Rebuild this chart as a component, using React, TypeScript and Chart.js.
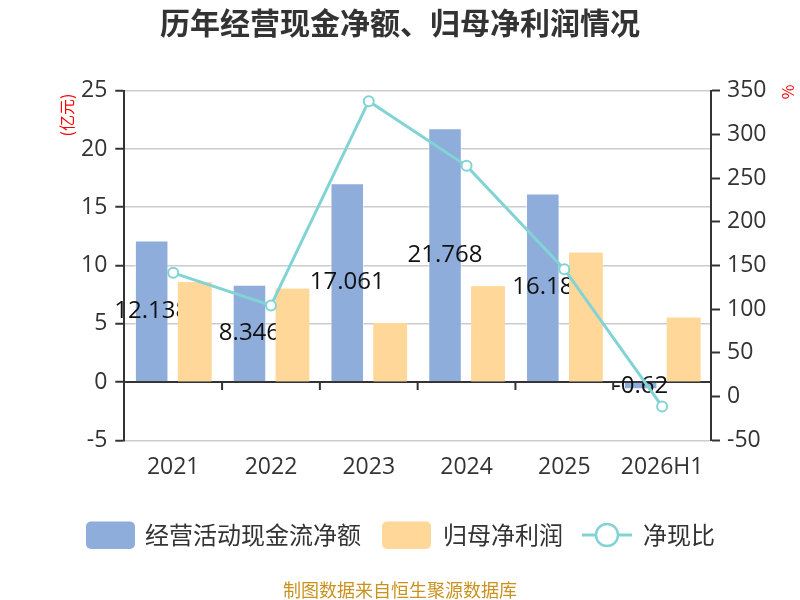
import React, { useEffect, useRef } from 'react';
import Chart from 'chart.js/auto';

const years = ['2021', '2022', '2023', '2024', '2025', '2026H1'];
const cashFlow = [12.138, 8.346, 17.061, 21.768, 16.18, -0.62];
const netProfit = [8.57, 8.0, 5.05, 8.23, 11.1, 5.52];
const cashRatio = [141.6, 104.3, 338, 264, 145.8, -11.2];

const TITLE = '历年经营现金净额、归母净利润情况';
const SOURCE = '制图数据来自恒生聚源数据库';
const LEGEND = ['经营活动现金流净额', '归母净利润', '净现比'];

const BLUE = '#8eaddb';
const YELLOW = '#ffd899';
const TEAL = '#82d3d6';
const CJK = '"Noto Sans CJK SC", sans-serif';
const NUM = '"Open Sans", sans-serif';

function roundRect(ctx: CanvasRenderingContext2D, x: number, y: number, w: number, h: number, r: number) {
  ctx.beginPath();
  ctx.moveTo(x + r, y);
  ctx.arcTo(x + w, y, x + w, y + h, r);
  ctx.arcTo(x + w, y + h, x, y + h, r);
  ctx.arcTo(x, y + h, x, y, r);
  ctx.arcTo(x, y, x + w, y, r);
  ctx.closePath();
}

const decor = {
  id: 'decor',
  beforeDatasetsDraw(chart: any) {
    const { ctx, chartArea, scales } = chart;
    const y0 = scales.y.getPixelForValue(0);
    ctx.save();
    ctx.strokeStyle = '#333';
    ctx.lineWidth = 2;
    ctx.beginPath();
    ctx.moveTo(chartArea.left, y0);
    ctx.lineTo(chartArea.right, y0);
    for (let i = 1; i < years.length; i++) {
      const x = (scales.x.getPixelForValue(i - 1) + scales.x.getPixelForValue(i)) / 2;
      ctx.moveTo(x, y0);
      ctx.lineTo(x, y0 + 8);
    }
    ctx.stroke();
    ctx.restore();
  },
  afterDatasetDraw(chart: any, args: any) {
    if (args.index !== 1) return;
    const ctx = chart.ctx;
    ctx.save();
    ctx.font = '24px ' + NUM;
    ctx.fillStyle = '#111';
    ctx.textAlign = 'center';
    ctx.textBaseline = 'middle';
    chart.getDatasetMeta(1).data.forEach((el: any, i: number) => {
      ctx.fillText(String(cashFlow[i]), el.x, (el.y + el.base) / 2);
    });
    ctx.restore();
    // profit bars sit on top of the labels
    chart.getDatasetMeta(2).data.forEach((el: any) => el.draw(ctx));
  },
  afterDraw(chart: any) {
    const ctx = chart.ctx;
    ctx.save();
    ctx.textBaseline = 'middle';

    ctx.fillStyle = '#333';
    ctx.textAlign = 'center';
    ctx.font = 'bold 30px ' + CJK;
    ctx.fillText(TITLE, 400, 23);

    ctx.fillStyle = '#f00';
    ctx.font = '16px ' + CJK;
    ctx.save();
    ctx.translate(67, 115);
    ctx.rotate(-Math.PI / 2);
    ctx.fillText('(亿元)', 0, 0);
    ctx.restore();
    ctx.save();
    ctx.translate(788, 92);
    ctx.rotate(-Math.PI / 2);
    ctx.fillText('%', 0, 0);
    ctx.restore();

    const ly = 535;
    ctx.font = '24px ' + CJK;
    ctx.textAlign = 'left';
    ctx.fillStyle = BLUE;
    roundRect(ctx, 86, ly - 13.5, 49, 27.5, 5);
    ctx.fill();
    ctx.fillStyle = '#333';
    ctx.fillText(LEGEND[0], 145, ly);
    ctx.fillStyle = YELLOW;
    roundRect(ctx, 382, ly - 13.5, 49, 27.5, 5);
    ctx.fill();
    ctx.fillStyle = '#333';
    ctx.fillText(LEGEND[1], 443, ly);
    ctx.strokeStyle = TEAL;
    ctx.lineWidth = 3;
    ctx.beginPath();
    ctx.moveTo(582, ly);
    ctx.lineTo(632, ly);
    ctx.stroke();
    ctx.beginPath();
    ctx.arc(607, ly, 11, 0, Math.PI * 2);
    ctx.fillStyle = '#fff';
    ctx.fill();
    ctx.lineWidth = 2.5;
    ctx.stroke();
    ctx.fillStyle = '#333';
    ctx.fillText(LEGEND[2], 643, ly);

    ctx.textAlign = 'center';
    ctx.fillStyle = '#c9921e';
    ctx.font = '18px ' + CJK;
    ctx.fillText(SOURCE, 400, 590);
    ctx.restore();
  },
};

export default function App() {
  const canvasRef = useRef<HTMLCanvasElement | null>(null);
  const chartRef = useRef<Chart | null>(null);

  useEffect(() => {
    document.body.style.margin = '0';
    const ctx = canvasRef.current?.getContext('2d');
    if (!ctx) return;
    try { chartRef.current?.destroy(); } catch {}

    const tickFont = { family: NUM, size: 23 };

    chartRef.current = new Chart(ctx, {
      type: 'bar',
      data: {
        labels: years,
        datasets: [
          {
            type: 'line',
            label: LEGEND[2],
            data: cashRatio,
            yAxisID: 'y1',
            borderColor: TEAL,
            borderWidth: 3,
            pointRadius: 5,
            pointBackgroundColor: '#fff',
            pointBorderColor: TEAL,
            pointBorderWidth: 2,
            tension: 0,
          },
          {
            label: LEGEND[0],
            data: cashFlow,
            yAxisID: 'y',
            backgroundColor: BLUE,
            borderColor: 'rgba(255,255,255,0.5)',
            borderWidth: 1,
            categoryPercentage: 0.88,
            barPercentage: 0.78,
          },
          {
            label: LEGEND[1],
            data: netProfit,
            yAxisID: 'y',
            backgroundColor: YELLOW,
            categoryPercentage: 0.88,
            barPercentage: 0.78,
          },
        ],
      } as any,
      options: {
        responsive: false,
        animation: false,
        layout: { padding: { top: 90.7, left: 0, right: 0, bottom: 0 } },
        plugins: {
          legend: { display: false },
          title: { display: false },
          tooltip: { enabled: false },
        },
        scales: {
          x: {
            grid: { display: false },
            border: { display: false },
            ticks: { font: tickFont, color: '#333', padding: 5 },
            afterFit(s: any) { s.height = 159.7; },
          },
          y: {
            position: 'left',
            min: -5,
            max: 25,
            ticks: { stepSize: 5, font: tickFont, color: '#333', padding: 8 },
            grid: { color: '#cccccc', lineWidth: 1.5, tickColor: '#333', tickLength: 9, tickWidth: 2 },
            border: { color: '#333', width: 2 },
            afterFit(s: any) { s.width = 124.3; },
          },
          y1: {
            position: 'right',
            min: -50,
            max: 350,
            ticks: { stepSize: 50, font: tickFont, color: '#333', padding: 7 },
            grid: { drawOnChartArea: false, tickColor: '#333', tickLength: 9, tickWidth: 2 },
            border: { color: '#333', width: 2 },
            afterFit(s: any) { s.width = 89; },
          },
        },
      } as any,
      plugins: [decor],
    });

    return () => {
      try { chartRef.current?.destroy(); } catch {}
      chartRef.current = null;
    };
  }, []);

  return (
    <div style={{ width: 800, height: 600 }}>
      <canvas ref={canvasRef} width={800} height={600} />
    </div>
  );
}
